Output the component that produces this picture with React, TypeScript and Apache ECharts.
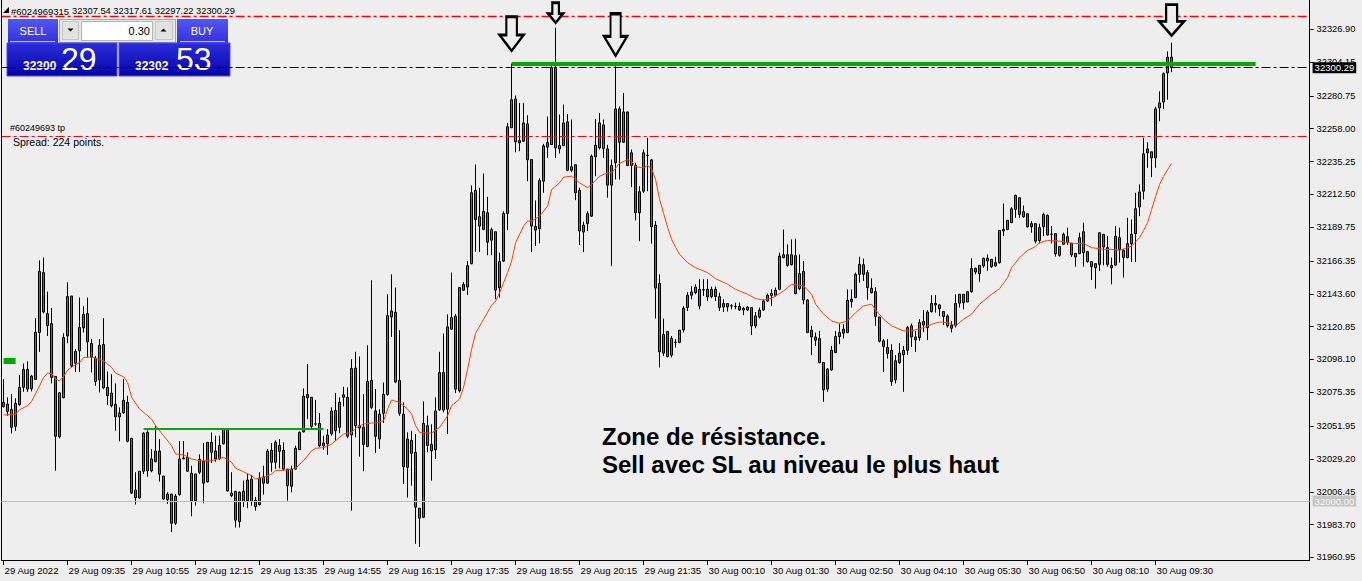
import React, { useEffect, useRef } from "react";
import * as echarts from "echarts";

// 5-minute bars from 29 Aug 08:15, each row is [open, close, low, high]
const BARS: number[][] = [
  [32065.4, 32068.4, 32064.9, 32084.5], [32067.2, 32062.1, 32059.1, 32071.9], [32063.5, 32051.1, 32046.9, 32074.1], [32051.8, 32067.7, 32048.7, 32071.2],
  [32066.8, 32078.8, 32066.1, 32087.3], [32078.8, 32091.2, 32075.7, 32095.3], [32091.2, 32077.6, 32075.7, 32096.9], [32077.8, 32086.6, 32076.0, 32087.5],
  [32084.3, 32117.0, 32084.3, 32126.7], [32116.8, 32159.0, 32103.4, 32166.8], [32158.3, 32131.0, 32130.1, 32168.7], [32129.9, 32121.6, 32114.4, 32145.1],
  [32123.0, 32085.7, 32081.5, 32133.8], [32086.4, 32044.9, 32021.0, 32086.4], [32044.6, 32075.0, 32043.5, 32075.5], [32071.6, 32113.3, 32071.2, 32116.3],
  [32114.4, 32141.7, 32109.4, 32151.6], [32142.1, 32093.7, 32092.6, 32142.1], [32095.5, 32103.6, 32089.5, 32105.2], [32104.1, 32120.2, 32089.5, 32141.0],
  [32120.0, 32129.2, 32116.8, 32135.2], [32129.9, 32110.3, 32099.5, 32141.0], [32109.2, 32099.7, 32089.1, 32112.2], [32099.0, 32082.9, 32079.9, 32100.6],
  [32084.0, 32108.0, 32075.3, 32112.2], [32108.5, 32078.5, 32077.6, 32126.7], [32078.8, 32073.0, 32066.5, 32089.8], [32074.8, 32066.1, 32064.9, 32087.9],
  [32067.0, 32058.4, 32048.7, 32081.5], [32058.4, 32061.0, 32041.4, 32064.9], [32061.2, 32069.8, 32060.3, 32084.5], [32068.4, 32041.4, 32040.7, 32073.0],
  [32043.5, 32005.6, 32004.9, 32043.5], [32007.7, 32002.4, 31997.6, 32020.0], [32002.2, 32020.7, 32001.5, 32020.7], [32020.7, 32047.1, 32018.8, 32047.6],
  [32047.6, 32021.0, 32016.9, 32049.9], [32021.0, 32029.2, 32020.0, 32036.1], [32027.3, 32034.7, 32026.9, 32052.2], [32034.7, 32018.6, 32013.5, 32043.0],
  [32017.4, 32001.5, 32000.8, 32017.4], [32001.0, 32004.9, 31998.0, 32006.1], [32004.9, 31984.7, 31978.5, 32004.9], [31984.7, 32003.4, 31983.5, 32004.9],
  [32004.5, 32029.2, 32003.8, 32041.6], [32029.2, 32029.9, 32029.2, 32041.6], [32030.3, 32020.7, 32020.4, 32033.8], [32019.3, 31999.9, 31989.5, 32024.5],
  [32000.3, 32018.8, 31996.9, 32018.8], [32020.0, 32029.0, 32018.8, 32032.4], [32027.8, 32012.4, 31998.5, 32040.2], [32013.3, 32040.7, 32013.0, 32040.7],
  [32040.7, 32033.8, 32026.4, 32047.6], [32034.7, 32029.2, 32027.3, 32045.3], [32029.2, 32038.6, 32028.7, 32045.3], [32039.7, 32049.9, 32039.3, 32050.6],
  [32049.9, 32007.0, 32006.8, 32050.4], [32003.8, 32005.6, 32002.7, 32020.0], [32006.8, 31986.8, 31981.7, 32006.8], [31985.8, 32006.1, 31981.7, 32006.8],
  [32006.8, 31999.6, 31995.8, 32014.2], [32000.3, 32014.6, 31995.1, 32018.8], [32015.3, 31999.6, 31996.9, 32018.1], [32000.6, 31996.2, 31993.4, 32002.9],
  [31997.6, 32016.0, 31996.9, 32020.0], [32016.7, 32012.4, 32004.5, 32024.5], [32012.4, 32034.7, 32011.9, 32036.1], [32035.2, 32026.9, 32020.4, 32040.2],
  [32026.9, 32040.7, 32022.2, 32042.1], [32038.6, 32034.5, 32022.7, 32043.0], [32035.2, 32022.2, 32021.0, 32040.7], [32022.2, 32010.7, 32000.3, 32022.2],
  [32010.3, 32022.2, 32006.1, 32024.5], [32022.2, 32036.6, 32021.7, 32038.4], [32035.6, 32047.6, 32035.6, 32048.3], [32048.0, 32072.7, 32047.6, 32078.1],
  [32073.9, 32071.6, 32056.8, 32094.9], [32071.9, 32051.8, 32049.9, 32071.9], [32053.4, 32053.5, 32052.2, 32070.0], [32053.8, 32038.4, 32037.3, 32061.0],
  [32040.2, 32038.4, 32035.6, 32045.3], [32039.7, 32045.8, 32032.1, 32049.9], [32046.7, 32062.4, 32045.3, 32064.9], [32062.8, 32048.7, 32041.8, 32074.8],
  [32051.1, 32068.4, 32047.1, 32071.9], [32071.9, 32073.6, 32065.6, 32079.2], [32071.9, 32044.9, 32043.5, 32078.8], [32045.8, 32091.9, 31993.4, 32098.3],
  [32092.1, 32052.2, 32044.2, 32103.4], [32052.2, 32050.6, 32030.8, 32100.2], [32051.1, 32039.3, 32020.7, 32074.1], [32037.9, 32082.9, 32037.3, 32108.0],
  [32083.6, 32064.9, 32063.7, 32153.0], [32062.5, 32044.9, 32033.3, 32077.6], [32043.0, 32060.3, 32036.1, 32063.7], [32060.8, 32073.9, 32054.1, 32082.2],
  [32073.9, 32128.5, 32073.0, 32143.3], [32127.6, 32131.7, 32113.7, 32157.1], [32130.8, 32082.6, 32081.7, 32147.9], [32083.6, 32060.8, 32059.1, 32118.4],
  [32060.3, 32023.8, 32011.9, 32068.4], [32023.4, 32043.0, 32002.4, 32047.6], [32042.1, 32033.1, 32010.7, 32048.7], [32033.8, 31995.8, 31970.4, 32046.5],
  [31995.1, 31988.2, 31968.3, 31995.1], [31988.8, 32053.8, 31988.2, 32069.1], [32052.2, 32038.6, 32033.8, 32059.1], [32039.3, 32034.9, 32014.2, 32053.2],
  [32035.6, 32062.5, 32029.2, 32071.9], [32063.3, 32089.1, 32062.5, 32103.4], [32089.1, 32063.1, 32061.5, 32116.1], [32063.7, 32120.7, 32046.5, 32129.4],
  [32119.1, 32127.2, 32118.6, 32158.3], [32128.1, 32077.6, 32074.8, 32129.7], [32076.4, 32147.9, 32075.3, 32147.9], [32146.1, 32150.0, 32145.6, 32151.8],
  [32148.3, 32163.1, 32142.8, 32166.3], [32164.5, 32213.6, 32164.0, 32218.7], [32215.2, 32195.1, 32172.8, 32233.2], [32197.0, 32190.5, 32172.5, 32217.1],
  [32188.2, 32200.7, 32187.7, 32227.0], [32199.8, 32179.4, 32170.3, 32210.8], [32180.8, 32188.0, 32170.3, 32189.4], [32186.6, 32146.2, 32139.8, 32186.6],
  [32147.9, 32165.9, 32141.0, 32172.1], [32166.3, 32199.3, 32165.6, 32200.7], [32199.3, 32259.3, 32187.7, 32262.0], [32258.6, 32278.1, 32258.6, 32303.0],
  [32278.6, 32248.9, 32241.7, 32280.9], [32249.8, 32248.2, 32242.4, 32275.9], [32249.3, 32262.0, 32248.9, 32275.9], [32261.3, 32236.4, 32221.6, 32267.3],
  [32236.6, 32190.5, 32172.5, 32236.6], [32190.3, 32187.7, 32176.7, 32208.3], [32188.7, 32222.1, 32178.5, 32223.7], [32221.6, 32246.1, 32213.6, 32247.5],
  [32245.2, 32248.4, 32237.8, 32266.4], [32247.0, 32300.3, 32247.0, 32301.7], [32300.3, 32244.7, 32237.8, 32327.9], [32244.0, 32246.3, 32240.8, 32267.8],
  [32246.3, 32262.0, 32245.8, 32274.7], [32262.7, 32229.2, 32228.5, 32268.2], [32229.2, 32231.6, 32227.9, 32264.3], [32233.0, 32213.6, 32208.5, 32233.2],
  [32215.2, 32187.1, 32177.4, 32217.1], [32186.4, 32191.2, 32172.5, 32193.6], [32192.2, 32199.1, 32187.1, 32200.7], [32197.4, 32238.9, 32197.0, 32240.1],
  [32238.5, 32246.5, 32225.1, 32264.8], [32244.7, 32262.0, 32243.6, 32268.9], [32260.6, 32244.3, 32237.8, 32264.3], [32244.0, 32218.9, 32210.2, 32246.8],
  [32218.9, 32232.5, 32162.9, 32236.6], [32234.4, 32271.7, 32222.8, 32302.3], [32271.7, 32248.6, 32222.8, 32273.5], [32248.6, 32269.6, 32248.2, 32282.8],
  [32269.6, 32232.5, 32232.0, 32269.8], [32241.3, 32232.5, 32217.5, 32243.6], [32232.5, 32199.8, 32194.5, 32234.4], [32199.8, 32214.3, 32180.1, 32218.2],
  [32214.7, 32241.3, 32213.6, 32243.6], [32239.4, 32239.6, 32214.7, 32251.7], [32236.4, 32190.1, 32178.3, 32237.1], [32191.2, 32147.6, 32126.5, 32194.0],
  [32150.7, 32103.4, 32092.6, 32157.1], [32102.5, 32115.4, 32100.6, 32126.5], [32117.5, 32100.2, 32099.5, 32117.5], [32101.1, 32112.6, 32099.5, 32114.4],
  [32109.9, 32110.1, 32106.4, 32112.2], [32109.9, 32118.4, 32109.4, 32118.4], [32118.6, 32133.6, 32116.8, 32135.2], [32134.1, 32142.6, 32131.7, 32144.9],
  [32142.6, 32144.9, 32139.8, 32149.0], [32144.4, 32148.3, 32143.3, 32150.2], [32135.2, 32146.7, 32132.9, 32153.7], [32146.2, 32146.4, 32142.1, 32153.7],
  [32146.7, 32141.4, 32138.6, 32153.7], [32141.7, 32146.7, 32140.5, 32148.6], [32146.7, 32141.7, 32138.6, 32148.6], [32141.7, 32134.1, 32131.7, 32144.4],
  [32134.5, 32136.9, 32131.0, 32139.8], [32136.9, 32134.5, 32131.3, 32136.9], [32135.2, 32135.3, 32132.9, 32136.4], [32134.8, 32134.9, 32132.9, 32137.5],
  [32134.8, 32132.4, 32131.7, 32137.5], [32132.4, 32133.6, 32128.8, 32134.5], [32132.4, 32134.3, 32131.7, 32135.2], [32134.1, 32121.4, 32115.1, 32134.1],
  [32121.4, 32128.3, 32119.8, 32131.0], [32127.6, 32132.2, 32126.5, 32134.1], [32132.4, 32138.6, 32131.7, 32139.8], [32138.6, 32142.6, 32138.2, 32143.8],
  [32142.4, 32143.8, 32135.2, 32146.7], [32142.6, 32146.1, 32141.7, 32147.9], [32146.7, 32169.8, 32146.1, 32172.1], [32168.7, 32170.7, 32168.2, 32188.2],
  [32170.7, 32163.3, 32162.4, 32177.9], [32163.8, 32170.7, 32163.3, 32181.3], [32170.0, 32143.8, 32143.3, 32181.8], [32147.2, 32157.6, 32146.1, 32170.9],
  [32159.0, 32139.3, 32136.4, 32166.3], [32139.3, 32116.8, 32116.3, 32139.8], [32118.4, 32113.7, 32101.1, 32121.4], [32113.7, 32111.5, 32107.5, 32116.8],
  [32112.6, 32096.0, 32095.5, 32117.9], [32096.0, 32077.1, 32068.8, 32096.0], [32077.6, 32091.4, 32075.7, 32092.1], [32090.9, 32104.5, 32090.2, 32107.5],
  [32103.0, 32114.0, 32102.5, 32117.9], [32114.0, 32116.8, 32108.7, 32123.0], [32116.3, 32119.1, 32112.6, 32122.5], [32116.8, 32139.1, 32116.3, 32146.7],
  [32138.2, 32139.8, 32134.1, 32146.7], [32141.0, 32157.1, 32140.5, 32158.3], [32157.1, 32164.0, 32151.4, 32169.3], [32163.8, 32157.1, 32152.5, 32168.0],
  [32158.3, 32147.9, 32139.3, 32160.1], [32147.4, 32144.4, 32143.8, 32154.3], [32145.1, 32127.9, 32121.4, 32148.3], [32127.6, 32110.8, 32109.9, 32127.6],
  [32111.0, 32107.1, 32089.5, 32112.2], [32106.4, 32102.3, 32098.8, 32112.2], [32104.5, 32082.9, 32079.9, 32108.7], [32084.0, 32097.2, 32081.5, 32101.1],
  [32096.0, 32102.5, 32094.9, 32109.4], [32101.3, 32104.5, 32075.7, 32107.5], [32104.5, 32120.2, 32101.3, 32121.4], [32121.4, 32113.7, 32106.8, 32123.0],
  [32113.7, 32111.7, 32103.4, 32117.9], [32113.3, 32123.7, 32111.0, 32126.0], [32124.4, 32122.0, 32117.2, 32132.2], [32120.2, 32131.0, 32111.5, 32132.2],
  [32131.3, 32136.9, 32130.6, 32142.6], [32135.9, 32136.9, 32130.6, 32142.8], [32135.9, 32133.4, 32128.1, 32136.4], [32131.3, 32127.9, 32122.0, 32131.7],
  [32128.3, 32121.4, 32120.2, 32129.4], [32121.8, 32119.8, 32116.8, 32124.8], [32121.4, 32136.9, 32120.2, 32143.3], [32137.1, 32143.3, 32134.1, 32143.3],
  [32143.3, 32137.5, 32132.9, 32143.3], [32137.9, 32145.1, 32137.9, 32145.6], [32145.1, 32161.1, 32144.4, 32168.2], [32161.3, 32158.7, 32157.1, 32161.7],
  [32157.6, 32163.3, 32151.8, 32163.3], [32162.9, 32168.2, 32161.7, 32168.7], [32168.2, 32166.3, 32159.4, 32170.9], [32167.5, 32162.4, 32161.7, 32167.5],
  [32162.9, 32165.2, 32162.4, 32169.3], [32165.2, 32187.5, 32164.5, 32187.5], [32187.1, 32188.2, 32183.6, 32206.2], [32188.2, 32194.5, 32187.7, 32194.5],
  [32192.9, 32202.5, 32192.9, 32203.7], [32202.1, 32211.7, 32196.3, 32212.4], [32210.2, 32198.6, 32196.3, 32210.2], [32197.0, 32200.5, 32196.3, 32204.8],
  [32199.1, 32190.1, 32189.4, 32199.1], [32190.1, 32192.2, 32185.9, 32194.0], [32192.2, 32180.1, 32178.5, 32192.2], [32180.6, 32189.4, 32178.5, 32192.2],
  [32190.1, 32198.6, 32183.6, 32199.8], [32197.9, 32184.3, 32184.1, 32198.6], [32184.8, 32184.9, 32178.5, 32190.5], [32185.3, 32171.4, 32169.4, 32185.3],
  [32170.3, 32176.3, 32169.4, 32176.7], [32177.9, 32184.8, 32177.4, 32186.0], [32183.2, 32179.0, 32177.4, 32189.4], [32178.5, 32170.5, 32169.1, 32179.0],
  [32169.1, 32171.6, 32162.4, 32171.6], [32171.4, 32182.5, 32171.4, 32186.0], [32186.6, 32172.1, 32162.4, 32192.9], [32172.8, 32165.9, 32165.2, 32173.2],
  [32165.9, 32162.4, 32153.2, 32166.3], [32161.7, 32164.5, 32147.2, 32164.5], [32164.0, 32185.9, 32159.4, 32185.9], [32184.8, 32176.0, 32163.3, 32184.8],
  [32175.6, 32164.0, 32162.4, 32183.6], [32163.3, 32161.7, 32150.2, 32168.7], [32163.5, 32183.6, 32163.3, 32190.5], [32182.5, 32174.4, 32165.2, 32189.4],
  [32173.7, 32168.7, 32154.8, 32174.4], [32168.7, 32178.3, 32168.2, 32196.3], [32178.3, 32184.8, 32165.6, 32195.1], [32185.3, 32202.5, 32165.6, 32213.6],
  [32203.7, 32214.2, 32197.4, 32219.4], [32214.7, 32240.6, 32209.0, 32251.7], [32241.3, 32244.0, 32230.9, 32248.6], [32242.0, 32237.8, 32224.4, 32242.0],
  [32237.8, 32271.7, 32230.9, 32273.1], [32272.4, 32275.9, 32263.1, 32283.9], [32276.5, 32296.1, 32271.7, 32297.0], [32296.6, 32307.5, 32278.1, 32311.5],
  [32307.54, 32300.29, 32297.22, 32317.61],
];

// Moving average, read at selected bars: [bar index, value]
const MA_POINTS: number[][] = [
  [0, 32059.6], [3, 32060.3], [4, 32063.3], [6, 32066.1], [7, 32069.1], [9, 32079.9], [10, 32085.7], [11, 32088.7], [12, 32088.4], [13, 32084.5],
  [14, 32083.3], [15, 32086.4], [16, 32090.7], [17, 32092.8], [19, 32096.0], [20, 32099.5], [22, 32099.9], [23, 32099.0], [25, 32097.2], [27, 32092.6],
  [28, 32088.7], [30, 32086.1], [31, 32082.2], [32, 32071.9], [34, 32063.7], [35, 32061.5], [37, 32056.8], [38, 32052.2], [40, 32045.3], [42, 32038.4],
  [43, 32032.6], [45, 32032.1], [47, 32029.2], [49, 32028.0], [52, 32028.0], [55, 32030.3], [57, 32026.9], [58, 32022.7], [59, 32021.6], [62, 32017.6],
  [63, 32015.3], [65, 32016.5], [67, 32018.8], [68, 32021.1], [71, 32021.6], [73, 32022.7], [75, 32028.0], [77, 32034.9], [78, 32036.6], [80, 32037.0],
  [82, 32039.5], [83, 32041.8], [85, 32046.5], [87, 32047.6], [88, 32050.6], [90, 32053.4], [92, 32054.1], [93, 32054.1], [95, 32055.7], [96, 32063.7],
  [97, 32070.0], [99, 32068.4], [101, 32063.7], [102, 32060.3], [103, 32052.2], [104, 32047.6], [106, 32047.1], [107, 32047.1], [109, 32051.1], [111, 32059.1],
  [112, 32066.1], [114, 32070.7], [115, 32079.0], [116, 32091.4], [117, 32105.2], [118, 32116.3], [120, 32126.0], [122, 32135.7], [123, 32138.6], [124, 32144.4],
  [126, 32158.3], [127, 32166.3], [128, 32179.0], [130, 32190.5], [131, 32194.0], [132, 32194.0], [134, 32197.4], [136, 32204.3], [137, 32215.9], [139, 32220.5],
  [140, 32224.4], [142, 32225.1], [144, 32220.5], [146, 32217.1], [147, 32219.4], [149, 32225.1], [151, 32227.4], [152, 32227.4], [154, 32233.9], [156, 32236.6],
  [157, 32235.5], [158, 32231.6], [160, 32230.9], [161, 32232.5], [162, 32230.2], [163, 32222.8], [164, 32209.0], [165, 32199.3], [166, 32189.6], [167, 32181.3],
  [168, 32175.8], [169, 32171.0], [171, 32165.2], [173, 32161.7], [176, 32158.3], [178, 32154.1], [181, 32150.2], [183, 32146.7], [186, 32143.3], [188, 32140.3],
  [190, 32139.3], [192, 32140.5], [195, 32145.6], [197, 32150.2], [200, 32149.0], [202, 32143.3], [203, 32136.4], [205, 32129.5], [207, 32124.8], [209, 32123.2],
  [211, 32124.8], [213, 32130.6], [215, 32135.2], [217, 32136.4], [218, 32132.4], [220, 32126.0], [222, 32121.4], [225, 32117.9], [227, 32117.9], [230, 32120.2],
  [232, 32122.5], [234, 32124.1], [236, 32123.7], [238, 32121.4], [240, 32126.0], [242, 32129.5], [244, 32136.4], [247, 32143.3], [249, 32147.2], [251, 32154.8],
  [252, 32161.7], [254, 32168.7], [256, 32173.7], [258, 32176.3], [259, 32179.0], [261, 32180.6], [263, 32180.6], [266, 32179.0], [268, 32178.5], [270, 32178.5],
  [272, 32175.6], [275, 32174.4], [277, 32174.4], [279, 32173.7], [281, 32175.6], [282, 32176.7], [284, 32182.5], [285, 32187.5], [286, 32192.9], [287, 32202.1],
  [288, 32211.1], [289, 32219.4], [290, 32224.9], [291, 32229.7], [292, 32233.9],
];

// Time labels, one every 16 bars
const TIME_LABELS = [
  "29 Aug 2022", "29 Aug 09:35", "29 Aug 10:55", "29 Aug 12:15", "29 Aug 13:35", "29 Aug 14:55", "29 Aug 16:15",
  "29 Aug 17:35", "29 Aug 18:55", "29 Aug 20:15", "29 Aug 21:35", "30 Aug 00:10", "30 Aug 01:30", "30 Aug 02:50",
  "30 Aug 04:10", "30 Aug 05:30", "30 Aug 06:50", "30 Aug 08:10", "30 Aug 09:30",
];
const LABEL_STEP = 16;

const PRICE_TICKS = [
  32326.9, 32304.15, 32280.75, 32258.0, 32235.25, 32212.5, 32189.75, 32166.35, 32143.6,
  32120.85, 32098.1, 32075.35, 32051.95, 32029.2, 32006.45, 31983.7, 31960.95,
];

const BID = 32300.29;
const ASK = 32302.53;
const SPREAD_POINTS = 224;
const LOT_SIZE = "0.30";
const TICKET = "#60249693";
const HEADER_TAG = "#6024969315";

// Horizontal levels
const SL_LEVEL = 32335.7;
const TP_LEVEL = 32252.7;
const ROUND_LEVEL = 32000;
const RESISTANCE = { from: 127, to: 313, value: 32302.7 };
const BASE_LINE = { from: 35, to: 80, value: 32049.9 };
const ENTRY_MARK = { from: 0, to: 3, value: 32097.3 };

// Bars pointed at by the arrows
const ARROW_BARS = [127, 138, 153, 292];

const NOTE_LINES = ["Zone de résistance.", "Sell avec SL au niveau le plus haut"];

const Y_MIN = 31959.2;
const Y_MAX = 32347.15;
const SLOTS = 327;

const FONT = '"Liberation Sans", Arial, Helvetica, sans-serif';
const BG = "#eeeeee";
const BULL = "#1f7fd8";
const BEAR = "#dc382b";
const DASH_DOT = [9, 3, 3, 3];

const ARROW_PATH = "path://M28,0 L72,0 L72,54 L100,54 L50,100 L0,54 L28,54 Z";
const ARROW_LOOK = [
  { size: [24, 34], gap: 13 },
  { size: [15, 20], gap: 5 },
  { size: [23, 42], gap: 9 },
  { size: [25, 31], gap: 7 },
];

function txt(x: number, y: number, text: string, fontSize: number, extra: any = {}) {
  return {
    type: "text",
    x,
    y,
    silent: true,
    style: {
      text,
      fill: "#000",
      fontSize,
      fontFamily: FONT,
      align: "left",
      verticalAlign: "middle",
      ...extra,
    },
  };
}

function panelGraphics() {
  const btnFill = new echarts.graphic.LinearGradient(0, 0, 0, 1, [
    { offset: 0, color: "#5656ef" },
    { offset: 1, color: "#3232de" },
  ]);
  const boxFill = new echarts.graphic.LinearGradient(0, 0, 0, 1, [
    { offset: 0, color: "#2c2cdc" },
    { offset: 1, color: "#0505a6" },
  ]);
  const last = BARS[BARS.length - 1];
  const header = [last[0], last[3], last[2], last[1]].map((v) => v.toFixed(2)).join(" ");
  const bidTxt = BID.toFixed(2);
  const askTxt = ASK.toFixed(2);
  return [
    { type: "polygon", silent: true, shape: { points: [[3, 13], [9, 7], [9, 13]] }, style: { fill: "#000" } },
    txt(11, 11, HEADER_TAG, 9.5),
    txt(72, 11, header, 9.3),
    // sell button
    { type: "rect", silent: true, shape: { x: 8, y: 19, width: 50, height: 24 }, style: { fill: btnFill } },
    { type: "line", silent: true, shape: { x1: 10, y1: 41.5, x2: 55, y2: 41.5 }, style: { stroke: "#c4c4ff", lineWidth: 1 } },
    txt(33, 30.5, "SELL", 11, { fill: "#fff", align: "center" }),
    // lot box
    { type: "rect", silent: true, shape: { x: 59.5, y: 19.5, width: 116, height: 23 }, style: { fill: "#e6e6e6", stroke: "#a8a8a8", lineWidth: 1 } },
    { type: "rect", silent: true, shape: { x: 62.5, y: 21.5, width: 16, height: 18 }, style: { fill: "#e2e2e2", stroke: "#c4c4c4", lineWidth: 1 } },
    { type: "polygon", silent: true, shape: { points: [[67.5, 28.5], [73.5, 28.5], [70.5, 31.5]] }, style: { fill: "#000" } },
    { type: "rect", silent: true, shape: { x: 81.5, y: 21.5, width: 71, height: 19 }, style: { fill: "#fff", stroke: "#b4b4b4", lineWidth: 1 } },
    txt(150, 30.5, LOT_SIZE, 11, { align: "right" }),
    { type: "rect", silent: true, shape: { x: 155.5, y: 21.5, width: 17, height: 18 }, style: { fill: "#e2e2e2", stroke: "#c4c4c4", lineWidth: 1 } },
    { type: "polygon", silent: true, shape: { points: [[160.5, 31.5], [166.5, 31.5], [163.5, 28.5]] }, style: { fill: "#000" } },
    // buy button
    { type: "rect", silent: true, shape: { x: 177, y: 19, width: 51, height: 24 }, style: { fill: btnFill } },
    { type: "line", silent: true, shape: { x1: 180, y1: 41.5, x2: 225, y2: 41.5 }, style: { stroke: "#c4c4ff", lineWidth: 1 } },
    txt(202, 30.5, "BUY", 11, { fill: "#fff", align: "center" }),
    // price boxes
    { type: "rect", silent: true, shape: { x: 7, y: 43, width: 110, height: 33 }, style: { fill: boxFill, stroke: "#4a4ae8", lineWidth: 1 } },
    { type: "rect", silent: true, shape: { x: 119, y: 43, width: 111, height: 33 }, style: { fill: boxFill, stroke: "#4a4ae8", lineWidth: 1 } },
    txt(23, 66, bidTxt.slice(0, -3), 12, { fill: "#fff", fontWeight: "bold" }),
    txt(61, 59, bidTxt.slice(-2), 32, { fill: "#fff" }),
    txt(135, 66, askTxt.slice(0, -3), 12, { fill: "#fff", fontWeight: "bold" }),
    txt(176, 59, askTxt.slice(-2), 32, { fill: "#fff" }),
    // order / spread info
    txt(10, 128, TICKET + " tp", 9),
    txt(13, 141.5, "Spread: " + SPREAD_POINTS + " points.", 10.5),
    // note
    txt(602, 436, NOTE_LINES[0], 24, { fontWeight: "bold" }),
    txt(602, 464, NOTE_LINES[1], 24, { fontWeight: "bold" }),
  ];
}

function buildOption() {
  const slots = Array.from({ length: SLOTS }, (_, i) => String(i));
  const labelAt = (index: number) => index % LABEL_STEP === 0 && index / LABEL_STEP < TIME_LABELS.length;

  const levelLine = (value: number, color: string, type: any, width = 1) => ({
    yAxis: value,
    lineStyle: { color, type, width, opacity: 1 },
    label: { show: false },
  });
  const segment = (seg: { from: number; to: number; value: number }, width: number) => [
    { coord: [seg.from, seg.value], lineStyle: { color: "#00aa00", width, type: "solid", opacity: 1 } },
    { coord: [seg.to, seg.value], lineStyle: { color: "#00aa00", width, type: "solid", opacity: 1 } },
  ];
  const axisTag = (bg: string, fg: string) => ({
    show: true,
    position: "end",
    distance: 3,
    formatter: (p: any) => Number(p.value).toFixed(2),
    backgroundColor: bg,
    color: fg,
    fontFamily: FONT,
    fontSize: 9.5,
    padding: [1, 2, 0, 2],
  });

  return {
    animation: false,
    backgroundColor: BG,
    grid: { left: 1.6, top: 0, width: 1308, height: 560, containLabel: false },
    xAxis: {
      type: "category",
      data: slots,
      boundaryGap: true,
      axisLine: { show: true, lineStyle: { color: "#000", width: 1 } },
      axisTick: { show: true, interval: labelAt, alignWithLabel: true, length: 5, lineStyle: { color: "#000" } },
      axisLabel: {
        interval: labelAt,
        formatter: (_v: string, i: number) => TIME_LABELS[i / LABEL_STEP],
        align: "left",
        margin: 5,
        color: "#000",
        fontFamily: FONT,
        fontSize: 9.6,
        padding: [0, 0, 0, 1],
      },
      splitLine: { show: false },
    },
    yAxis: [
      {
        type: "value",
        position: "right",
        min: Y_MIN,
        max: Y_MAX,
        axisLine: { show: true, lineStyle: { color: "#000", width: 1 } },
        axisTick: { show: true, customValues: PRICE_TICKS, length: 4, lineStyle: { color: "#000" } },
        axisLabel: {
          customValues: PRICE_TICKS,
          formatter: (v: number) => v.toFixed(2),
          color: "#000",
          fontFamily: FONT,
          fontSize: 9.3,
          margin: 7,
        },
        splitLine: { show: false },
      },
      {
        type: "value",
        position: "left",
        min: Y_MIN,
        max: Y_MAX,
        axisLine: { show: true, lineStyle: { color: "#000", width: 1 } },
        axisTick: { show: false },
        axisLabel: { show: false },
        splitLine: { show: false },
      },
    ],
    series: [
      {
        name: "levels",
        type: "line",
        data: [],
        z: 1,
        silent: true,
        markLine: {
          silent: true,
          symbol: ["none", "none"],
          animation: false,
          data: [
            levelLine(SL_LEVEL, "#ff0000", DASH_DOT, 1.3),
            levelLine(TP_LEVEL, "#ff0000", DASH_DOT),
            { ...levelLine(ROUND_LEVEL, "#c0c0c0", "solid"), label: axisTag("#c6c6c6", "#f6f6f6") },
            { ...levelLine(BID, "#000000", DASH_DOT), label: axisTag("#000000", "#ffffff") },
            segment(RESISTANCE, 4),
            segment(BASE_LINE, 2),
            segment(ENTRY_MARK, 6),
          ],
        },
      },
      {
        name: "bars",
        type: "candlestick",
        data: BARS,
        z: 2,
        silent: true,
        barWidth: 2,
        itemStyle: {
          color: BULL,
          color0: BEAR,
          borderColor: "#000",
          borderColor0: "#000",
          borderColorDoji: "#000",
          borderWidth: 1,
        },
        markPoint: {
          silent: true,
          animation: false,
          label: { show: false },
          itemStyle: { color: BG, borderColor: "#000", borderWidth: 2.5 },
          data: ARROW_BARS.map((bar, k) => ({
            coord: [bar, BARS[bar][3]],
            symbol: ARROW_PATH,
            symbolSize: ARROW_LOOK[k].size,
            symbolOffset: [0, -(ARROW_LOOK[k].gap + ARROW_LOOK[k].size[1] / 2)],
          })),
        },
      },
      {
        name: "MA",
        type: "line",
        data: MA_POINTS,
        z: 3,
        silent: true,
        symbol: "none",
        showSymbol: false,
        lineStyle: { color: "#ff4500", width: 1 },
      },
    ],
    graphic: panelGraphics(),
  };
}

export default function App() {
  const ref = useRef<HTMLDivElement>(null);
  useEffect(() => {
    if (!ref.current) return;
    const chart = echarts.init(ref.current, undefined, { renderer: "svg" });
    chart.setOption(buildOption() as any);
    return () => chart.dispose();
  }, []);
  return (
    <div
      ref={ref}
      style={{ position: "fixed", left: 0, top: 0, width: 1362, height: 581, background: BG }}
    />
  );
}
